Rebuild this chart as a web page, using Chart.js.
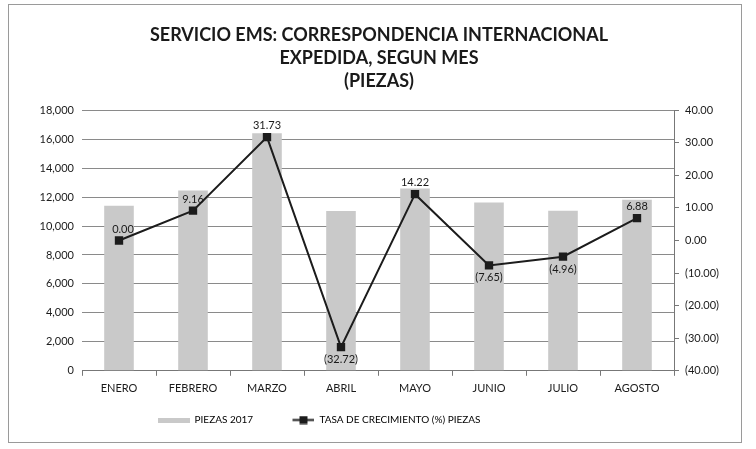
<!DOCTYPE html>
<html>
<head>
<meta charset="utf-8">
<script src="https://cdn.jsdelivr.net/npm/chart.js@4.4.0/dist/chart.umd.min.js"></script>
<style>
  html, body { margin: 0; padding: 0; background: #fff; }
  #wrap { position: relative; width: 756px; height: 449px; }
  #frame { position: absolute; left: 8px; top: 4px; right: 14px; bottom: 6px; border: 1px solid #9a9a9a; pointer-events: none; }
</style>
</head>
<body>
<div id="wrap">
  <canvas id="chart" width="756" height="449"></canvas>
  <div id="frame"></div>
</div>
<script>
// ---------- DATA ----------
const months = ["ENERO", "FEBRERO", "MARZO", "ABRIL", "MAYO", "JUNIO", "JULIO", "AGOSTO"];
const piezas2017 = [11400, 12450, 16400, 11030, 12600, 11630, 11060, 11820];
const tasaCrecimiento = [0.00, 9.16, 31.73, -32.72, 14.22, -7.65, -4.96, 6.88];
const titleLines = ["SERVICIO EMS: CORRESPONDENCIA INTERNACIONAL", "EXPEDIDA, SEGUN MES", "(PIEZAS)"];

const FONT = "Lato, 'Open Sans', sans-serif";
const TEXT = "#1a1a1a";
const BAR_COLOR = "#c9c9c9";
const LINE_COLOR = "#1c1c1c";

function fmtPct(v) {
  const s = Math.abs(v).toFixed(2);
  return v < 0 ? "(" + s + ")" : s;
}

// ---------- LEGEND SWATCHES ----------
function makeBarSwatch() {
  const c = document.createElement("canvas");
  c.width = 32; c.height = 5;
  const g = c.getContext("2d");
  g.fillStyle = BAR_COLOR;
  g.fillRect(0, 0, 32, 5);
  return c;
}
function makeLineSwatch() {
  // line sits in the right part of the 32px box, close to its text
  const c = document.createElement("canvas");
  c.width = 32; c.height = 9;
  const g = c.getContext("2d");
  g.fillStyle = LINE_COLOR;
  g.fillRect(10, 3.5, 22, 2);
  g.fillRect(17, 0.5, 8, 8);
  return c;
}
const barSwatch = makeBarSwatch();
const lineSwatch = makeLineSwatch();

// ---------- PLUGINS ----------
const pointLabels = {
  id: "pointLabels",
  afterDatasetsDraw(chart) {
    const ctx = chart.ctx;
    const meta = chart.getDatasetMeta(0); // line dataset
    ctx.save();
    ctx.font = "11px " + FONT;
    ctx.fillStyle = TEXT;
    ctx.textAlign = "center";
    meta.data.forEach((pt, i) => {
      const v = tasaCrecimiento[i];
      if (v < 0) {
        ctx.textBaseline = "top";
        ctx.fillText(fmtPct(v), pt.x, pt.y + 7);
      } else {
        ctx.textBaseline = "bottom";
        ctx.fillText(fmtPct(v), pt.x + (i === 0 ? 4 : 0), pt.y - 6);
      }
    });
    ctx.restore();
  }
};

// legend sits left of centre in the original
const legendShift = {
  id: "legendShift",
  afterLayout(chart) {
    if (chart.legend) chart.legend.right -= 120;
  }
};

// ---------- CHART ----------
const ctx = document.getElementById("chart").getContext("2d");
new Chart(ctx, {
  data: {
    labels: months,
    datasets: [
      {
        type: "line",
        label: "TASA DE CRECIMIENTO (%) PIEZAS",
        data: tasaCrecimiento,
        yAxisID: "y2",
        borderColor: LINE_COLOR,
        backgroundColor: LINE_COLOR,
        borderWidth: 2,
        pointStyle: "rect",
        pointRadius: 4.5,
        tension: 0,
        order: 1,
      },
      {
        type: "bar",
        label: "PIEZAS 2017",
        data: piezas2017,
        yAxisID: "y",
        backgroundColor: BAR_COLOR,
        categoryPercentage: 1,
        barPercentage: 0.4,
        order: 2,
      },
    ],
  },
  options: {
    responsive: false,
    animation: false,
    layout: { padding: { left: 12, right: 10, top: 19, bottom: 14 } },
    plugins: {
      title: {
        display: true,
        text: titleLines,
        color: TEXT,
        font: { family: FONT, size: 18, weight: "bold", lineHeight: 1.3 },
        padding: { top: 4, bottom: 17 },
      },
      legend: {
        position: "bottom",
        labels: {
          color: TEXT,
          font: { family: FONT, size: 10 },
          usePointStyle: true,
          pointStyleWidth: 32,
          padding: 14,
          generateLabels(chart) {
            return [
              { text: "PIEZAS 2017\u00a0\u00a0\u00a0\u00a0\u00a0\u00a0", pointStyle: barSwatch, fillStyle: BAR_COLOR, strokeStyle: BAR_COLOR, lineWidth: 0, datasetIndex: 1 },
              { text: "TASA DE CRECIMIENTO (%) PIEZAS", pointStyle: lineSwatch, fillStyle: LINE_COLOR, strokeStyle: LINE_COLOR, lineWidth: 0, datasetIndex: 0 },
            ];
          },
        },
      },
      tooltip: { enabled: false },
    },
    scales: {
      x: {
        offset: true,
        grid: { drawOnChartArea: false, drawTicks: true, tickLength: 5, offset: true, color: "#777" },
        border: { display: true, color: "#777" },
        ticks: { color: TEXT, font: { family: FONT, size: 11 }, padding: 6, maxRotation: 0 },
      },
      y: {
        position: "left",
        min: 0,
        max: 18000,
        ticks: {
          stepSize: 2000,
          color: TEXT,
          font: { family: FONT, size: 11 },
          padding: 8,
          callback: (v) => v.toLocaleString("en-US"),
        },
        grid: { color: "#8a8a8a", drawTicks: false },
        border: { display: false },
        afterFit(scale) { scale.width = 70; },
      },
      y2: {
        position: "right",
        min: -40,
        max: 40,
        ticks: {
          stepSize: 10,
          color: TEXT,
          font: { family: FONT, size: 11 },
          padding: 6,
          callback: (v) => fmtPct(v),
        },
        grid: { drawOnChartArea: false, drawTicks: true, tickLength: 5, color: "#777" },
        border: { display: true, color: "#777" },
        afterFit(scale) { scale.width = 72; },
      },
    },
  },
  plugins: [pointLabels, legendShift],
});
</script>
</body>
</html>
